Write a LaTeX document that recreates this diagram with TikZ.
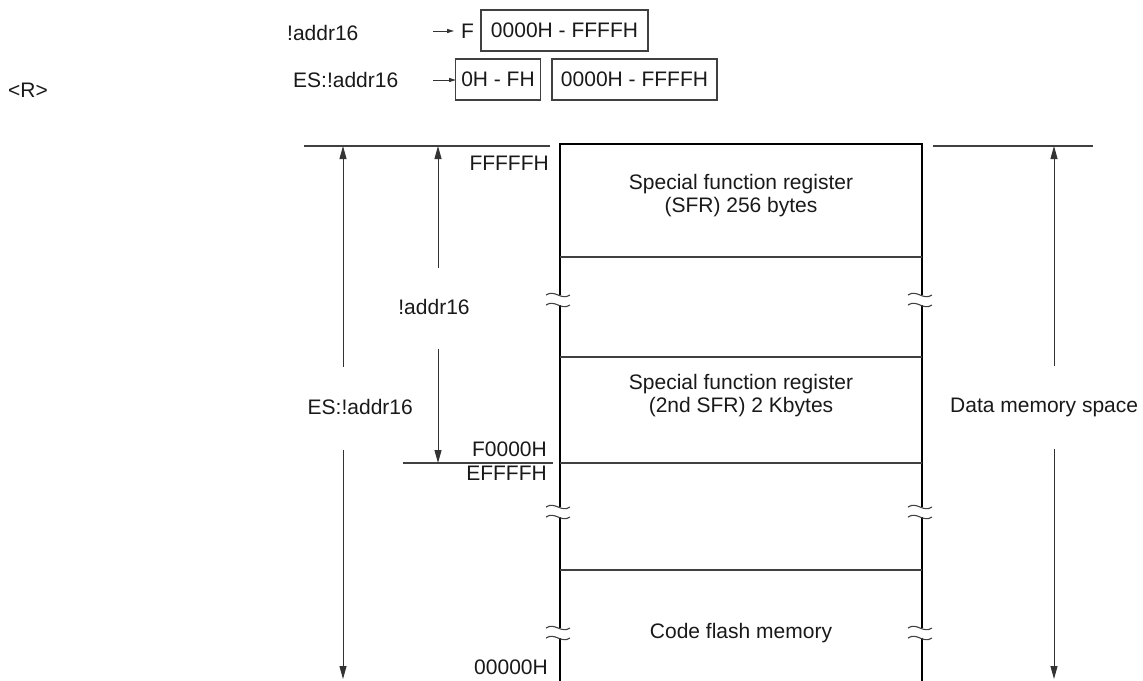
\documentclass[tikz,border=0pt]{standalone}
\usepackage{fontspec}
\setmainfont{Liberation Sans}
\usetikzlibrary{arrows.meta}

\tikzset{
  thinline/.style={draw=black!75, line width=1.1pt},
  wall/.style={draw=black, line width=2.6pt},
  dimarrow/.style={draw=black!80, line width=1pt, -{Triangle[length=13pt,width=7pt]}},
  ptrarrow/.style={draw=black!80, line width=1pt, -{Triangle[length=7pt,width=4pt]}},
  rangebox/.style={draw=black!75, line width=1.1pt, minimum height=41pt}
}

\begin{document}
\begin{tikzpicture}[x=1pt, y=-1pt,
    every node/.style={font=\fontsize{21}{23}\selectfont, text=black!90, inner sep=0pt}]
    \useasboundingbox (0,0) rectangle (1143,680);
    % address formats
    \node[anchor=west] (ptr) at (287,33) {!addr16};
    \coordinate (ptrA) at (433,31);
    \coordinate (ptrB) at (454,31);
    \draw[ptrarrow] (ptrA) -- (ptrB);
    \node[anchor=west] (fpre) at (461,31) {F};
    \node[rangebox, minimum width=167pt] (fbox) at (564.5,30.5) {0000H - FFFFH};
    \node[anchor=west] (esptr) at (293,80) {ES:!addr16};
    \coordinate (esA) at (433,80);
    \coordinate (esB) at (456,80);
    \draw[ptrarrow] (esA) -- (esB);
    \node[rangebox, minimum width=85pt] (esbox) at (498,79.5) {0H - FH};
    \node[rangebox, minimum width=165pt] (offbox) at (634.5,79.5) {0000H - FFFFH};
    \node[anchor=west] (rev) at (8,90) {<R>};
    % memory map
    \draw[wall] (560,295) -- (560,144) -- (922,144) -- (922,295);
    \foreach \xw in {560,922} {
        \foreach \ya/\yb in {305/507, 517/628, 638/682}
            \draw[wall] (\xw,\ya) -- (\xw,\yb);
        % break marks
        \foreach \yb in {300,512,633} {
            \draw[thinline] (\xw-14,\yb-5) .. controls (\xw-5,\yb-11) and (\xw+1,\yb+1) .. (\xw+10,\yb-5);
            \draw[thinline] (\xw-14,\yb+5) .. controls (\xw-5,\yb-1) and (\xw+1,\yb+11) .. (\xw+10,\yb+5);
        }
    }
    \foreach \yd in {257,357,463,570}
        \draw[thinline] (560,\yd) -- (922,\yd);
    \node[align=center] (sfr) at (741,196) {Special function register\\(SFR) 256 bytes};
    \node[align=center] (sfrb) at (741,396) {Special function register\\(2nd SFR) 2 Kbytes};
    \node (flash) at (741,633) {Code flash memory};
    % addresses
    \node[anchor=east] (atop) at (549,163) {FFFFFH};
    \node[anchor=east] (amid) at (547,449) {F0000H};
    \node[anchor=east] (amidb) at (547,473) {EFFFFH};
    \node[anchor=east] (abot) at (548,667) {00000H};
    % guide lines
    \draw[thinline] (304,146) -- (550,146);
    \draw[thinline] (933,146) -- (1093,146);
    \draw[thinline] (403,463) -- (553,463);
    % ranges
    \node (rngA) at (434,307) {!addr16};
    \node[anchor=east] (rngES) at (413,407) {ES:!addr16};
    \node[anchor=west] (rngD) at (950,407) {Data memory space};
    \coordinate (esTop) at (343,146);
    \coordinate (esUp) at (343,367);
    \coordinate (esDn) at (343,450);
    \coordinate (esBot) at (343,679);
    \draw[dimarrow] (esUp) -- (esTop);
    \draw[dimarrow] (esDn) -- (esBot);
    \coordinate (aTop) at (438,146);
    \coordinate (aUp) at (438,268);
    \coordinate (aDn) at (438,349);
    \coordinate (aBot) at (438,463);
    \draw[dimarrow] (aUp) -- (aTop);
    \draw[dimarrow] (aDn) -- (aBot);
    \coordinate (dTop) at (1054,146);
    \coordinate (dUp) at (1054,366);
    \coordinate (dDn) at (1054,449);
    \coordinate (dBot) at (1054,679);
    \draw[dimarrow] (dUp) -- (dTop);
    \draw[dimarrow] (dDn) -- (dBot);
\end{tikzpicture}
\end{document}
